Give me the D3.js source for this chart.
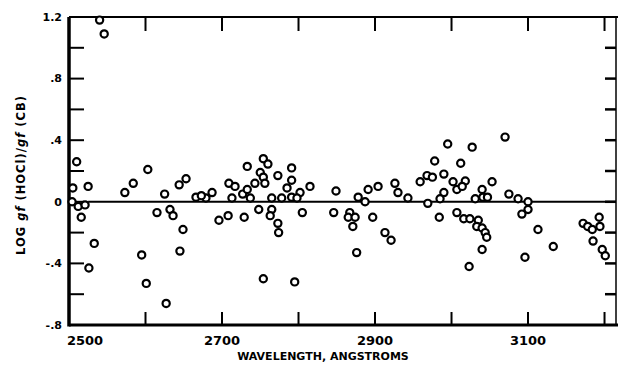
<!DOCTYPE html>
<html>
<head>
<meta charset="utf-8">
<script src="https://cdn.jsdelivr.net/npm/d3@7"></script>
<style>
  body { margin: 0; background: #fff; }
  svg text { font-family: "DejaVu Sans", sans-serif; font-weight: bold; fill: #000; }
  .frame { stroke: #000; fill: none; }
  .pt { fill: #fff; stroke: #000; stroke-width: 2.2; }
</style>
</head>
<body>
<svg id="chart" width="618" height="370"></svg>
<script>
// wavelength (angstroms) and log gf ratio for each line
const wavelength = [
  2540, 2546, 2510, 2603, 2505, 2525, 2573, 2584, 2644, 2653,
  2625, 2666, 2679, 2687, 2709, 2717, 2713, 2727, 2733, 2504,
  2512, 2521, 2516, 2615, 2632, 2636, 2649, 2696, 2708, 2729,
  2533, 2526, 2595, 2645, 2601, 2627, 2673,
  2754, 2760, 2791, 2773, 2750, 2754, 2791, 2756, 2743, 2815,
  2802, 2785, 2733, 2737, 2765, 2778, 2791, 2798, 2748, 2765,
  2763, 2773, 2774, 2805, 2754, 2795, 2849, 2846, 2867, 2865,
  2874, 2871, 2876, 2878, 2887, 2891, 2904, 2897, 2913, 2921,
  2926, 2930, 2943, 2959, 2968, 2969,
  3070, 2995, 3027, 2978, 3012, 2975, 2990, 3002, 3018, 3053,
  3007, 3014, 3040, 2990, 2985, 3031, 3041, 3047, 3075, 3087,
  3100, 2984, 3007, 3016, 3024, 3035, 3033, 3040, 3044, 3046,
  3040, 3100, 3092, 3113, 3133, 3172, 3178, 3184, 3193, 3194,
  3185, 3197, 3201, 3023, 3096
];
const logRatio = [
  1.18, 1.09, 0.26, 0.21, 0.09, 0.10, 0.06, 0.12, 0.11, 0.15,
  0.05, 0.03, 0.025, 0.06, 0.12, 0.10, 0.025, 0.05, 0.23, 0.0,
  -0.03, -0.02, -0.10, -0.07, -0.05, -0.09, -0.18, -0.12, -0.09, -0.10,
  -0.27, -0.43, -0.345, -0.32, -0.53, -0.66, 0.04,
  0.28, 0.245, 0.22, 0.17, 0.19, 0.16, 0.14, 0.12, 0.12, 0.10,
  0.06, 0.09, 0.08, 0.025, 0.025, 0.025, 0.03, 0.025, -0.05, -0.05,
  -0.09, -0.14, -0.20, -0.07, -0.50, -0.52, 0.07, -0.07, -0.07, -0.10,
  -0.10, -0.16, -0.33, 0.03, 0.0, 0.08, 0.10, -0.10, -0.20, -0.25,
  0.12, 0.06, 0.025, 0.13, 0.17, -0.01,
  0.42, 0.375, 0.355, 0.265, 0.25, 0.16, 0.18, 0.13, 0.135, 0.13,
  0.08, 0.10, 0.08, 0.06, 0.02, 0.02, 0.03, 0.03, 0.05, 0.02,
  0.0, -0.10, -0.07, -0.11, -0.11, -0.12, -0.16, -0.17, -0.20, -0.23,
  -0.31, -0.05, -0.08, -0.18, -0.29, -0.14, -0.16, -0.18, -0.10, -0.16,
  -0.255, -0.31, -0.35, -0.42, -0.36
];

const xLabelTicks = [2500, 2700, 2900, 3100];
const xMinorTicks = [2600, 2700, 2800, 2900, 3000, 3100, 3200];
const yLabelTicks = [1.2, 0.8, 0.4, 0, -0.4, -0.8];
const yTickLabels = ["1.2", ".8", ".4", "0", "-.4", "-.8"];
const yMinorTicks = [1.0, 0.8, 0.6, 0.4, 0.2, 0, -0.2, -0.4, -0.6];

class RatioPlot {
    constructor(svg) {
        this.svg = svg;
        this.x = d3.scaleLinear().domain([2500, 3215]).range([69, 616]);
        this.y = d3.scaleLinear().domain([-0.8, 1.2]).range([325, 17]);
    }

    /**
     * frame, inward ticks and labels
     */
    drawAxes() {
        let x = this.x, y = this.y, svg = this.svg;
        let [x0, x1] = x.range();
        let [y0, y1] = y.range();

        // left / bottom heavy, top lighter, right thin
        svg.append("line").attr("class", "frame").attr("x1", x0).attr("x2", x0)
           .attr("y1", y1).attr("y2", y0 + 1.5).attr("stroke-width", 3.5);
        svg.append("line").attr("class", "frame").attr("x1", x0).attr("x2", x1 + 2)
           .attr("y1", y0).attr("y2", y0).attr("stroke-width", 3);
        svg.append("line").attr("class", "frame").attr("x1", x0).attr("x2", x1 + 2)
           .attr("y1", y1).attr("y2", y1).attr("stroke-width", 2);
        svg.append("line").attr("class", "frame").attr("x1", x1).attr("x2", x1)
           .attr("y1", y1).attr("y2", y0).attr("stroke-width", 1.5);

        // ticks
        svg.selectAll(".ytl").data(yMinorTicks).enter().append("line")
           .attr("class", "frame").attr("stroke-width", 2)
           .attr("x1", x0).attr("x2", x0 + 15)
           .attr("y1", d => y(d)).attr("y2", d => y(d));
        svg.selectAll(".ytr").data(yMinorTicks).enter().append("line")
           .attr("class", "frame").attr("stroke-width", 2.5)
           .attr("x1", x1 - 11).attr("x2", x1)
           .attr("y1", d => y(d)).attr("y2", d => y(d));
        svg.selectAll(".xtt").data(xMinorTicks).enter().append("line")
           .attr("class", "frame").attr("stroke-width", 2)
           .attr("x1", d => x(d)).attr("x2", d => x(d))
           .attr("y1", y1).attr("y2", y1 + 14);
        svg.selectAll(".xtb").data(xMinorTicks).enter().append("line")
           .attr("class", "frame").attr("stroke-width", 2)
           .attr("x1", d => x(d)).attr("x2", d => x(d))
           .attr("y1", y0).attr("y2", y0 - 13);

        // tick labels
        svg.selectAll(".ylab").data(yLabelTicks).enter().append("text")
           .attr("x", x0 - 7).attr("y", d => y(d)).attr("dy", "0.35em")
           .attr("text-anchor", "end").style("font-size", "11px")
           .text((d, i) => yTickLabels[i]);
        svg.selectAll(".xlab").data(xLabelTicks).enter().append("text")
           .attr("x", (d, i) => x(d) + (i === 0 ? 16 : 0)).attr("y", y0 + 20)
           .attr("text-anchor", "middle").style("font-size", "13px")
           .text(d => d);

        // titles
        svg.append("text").attr("x", 323).attr("y", 360)
           .attr("text-anchor", "middle").style("font-size", "11px")
           .text("WAVELENGTH, ANGSTROMS");
        svg.append("text").attr("transform", "translate(25,175) rotate(-90)")
           .attr("text-anchor", "middle").style("font-size", "11.5px")
           .style("letter-spacing", "1px")
           .html('LOG <tspan font-style="italic">gf</tspan> (HOCl)/<tspan font-style="italic">gf</tspan> (CB)');
    }

    drawZeroLine() {
        this.svg.append("line").attr("class", "frame").attr("stroke-width", 2)
           .attr("x1", this.x(2525)).attr("x2", this.x.range()[1])
           .attr("y1", this.y(0)).attr("y2", this.y(0));
    }

    drawPoints() {
        let x = this.x, y = this.y;
        this.svg.append("g").selectAll("circle")
           .data(d3.range(wavelength.length))
           .enter().append("circle")
           .attr("class", "pt").attr("r", 3.6)
           .attr("cx", i => x(wavelength[i]))
           .attr("cy", i => y(logRatio[i]));
    }
}

let plot = new RatioPlot(d3.select("#chart"));
plot.drawAxes();
plot.drawZeroLine();
plot.drawPoints();
</script>
</body>
</html>
